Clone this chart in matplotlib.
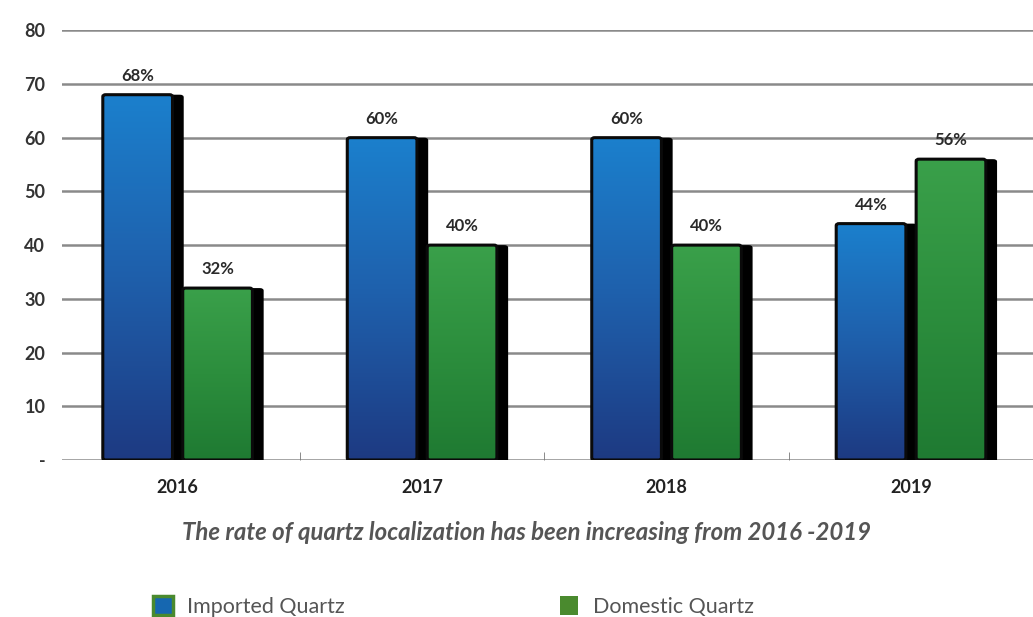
import numpy as np
import matplotlib
matplotlib.use("Agg")
import matplotlib.pyplot as plt
from matplotlib.patches import FancyBboxPatch, Rectangle
from matplotlib.colors import LinearSegmentedColormap

# chart data
years = ["2016", "2017", "2018", "2019"]
imported = [68, 60, 60, 44]
domestic = [32, 40, 40, 56]
y_ticks = [0, 10, 20, 30, 40, 50, 60, 70, 80]
y_tick_labels = ["-", "10", "20", "30", "40", "50", "60", "70", "80"]
caption = "The rate of quartz localization has been increasing from 2016 -2019"

plt.rcParams['font.family'] = ['Lato', 'DejaVu Sans']

fig = plt.figure(figsize=(10.33, 6.17), dpi=100)
ax = fig.add_axes([0.060, 0.2545, 0.940, 0.6965])
ax.set_xlim(-0.472, 3.48)
ax.set_ylim(0, 80)

blue_cmap = LinearSegmentedColormap.from_list("b", ["#1d3a82", "#1f5fab", "#1b80cd"])
green_cmap = LinearSegmentedColormap.from_list("g", ["#1f7a32", "#2c8e3d", "#3aa04a"])

bar_w = 0.285
x = np.arange(len(years))


def draw_bar(x0, h, cmap):
    # black drop shadow, offset to the right and a little down
    shadow = FancyBboxPatch((x0 + 0.012, -0.8), bar_w + 0.034, h + 0.8,
                            boxstyle="round,pad=0,rounding_size=0.016",
                            mutation_aspect=30, facecolor="black",
                            edgecolor="none", zorder=3)
    ax.add_patch(shadow)
    body = FancyBboxPatch((x0, 0), bar_w, h,
                          boxstyle="round,pad=0,rounding_size=0.012",
                          mutation_aspect=30, facecolor="none",
                          edgecolor="#0a0a0a", linewidth=2.2, zorder=5)
    ax.add_patch(body)
    grad = np.linspace(0, 1, 256).reshape(-1, 1)
    im = ax.imshow(grad, cmap=cmap, origin="lower", aspect="auto",
                   extent=(x0, x0 + bar_w, 0, h), zorder=4)
    im.set_clip_path(body)


for i in range(len(years)):
    xi = x[i] - 0.305
    draw_bar(xi, imported[i], blue_cmap)
    ax.text(xi + bar_w / 2, imported[i] + 2.0, f"{imported[i]}%",
            ha="center", va="bottom", fontsize=12, fontweight="bold",
            color="#2a2a2a", zorder=6)
    xd = x[i] + 0.022
    draw_bar(xd, domestic[i], green_cmap)
    ax.text(xd + bar_w / 2, domestic[i] + 2.0, f"{domestic[i]}%",
            ha="center", va="bottom", fontsize=12, fontweight="bold",
            color="#2a2a2a", zorder=6)

for t in y_ticks:
    ax.axhline(t, color="#8a8a8a", linewidth=1.8, zorder=1)

for s in ax.spines.values():
    s.set_visible(False)

ax.set_yticks(y_ticks)
ax.set_yticklabels(y_tick_labels, fontsize=13, fontweight="bold", color="#333333")
ax.tick_params(axis="y", length=0, pad=12)

ax.set_xticks(x + 0.5, minor=True)
ax.set_xticks(x)
ax.set_xticklabels(years, fontsize=13, fontweight="bold", color="#222222")
ax.tick_params(axis="x", which="major", length=0, pad=14)
ax.tick_params(axis="x", which="minor", length=6, color="#777777", direction="in")

fig.text(0.51, 0.137, caption, ha="center", va="center", fontsize=17.3,
         fontstyle="italic", fontweight="bold", color="#555555")

# legend
fig.patches.append(Rectangle((0.148, 0.004), 0.019, 0.03, transform=fig.transFigure,
                             facecolor="#1667b0", edgecolor="#4a8a2e", linewidth=2.5))
fig.text(0.181, 0.016, "Imported Quartz", ha="left", va="center",
         fontsize=15.5, color="#555555")
fig.patches.append(Rectangle((0.542, 0.004), 0.018, 0.03, transform=fig.transFigure,
                             facecolor="#4a8a2e", edgecolor="none"))
fig.text(0.574, 0.016, "Domestic Quartz", ha="left", va="center",
         fontsize=15.5, color="#555555")

fig.savefig("out.png", dpi=100)
